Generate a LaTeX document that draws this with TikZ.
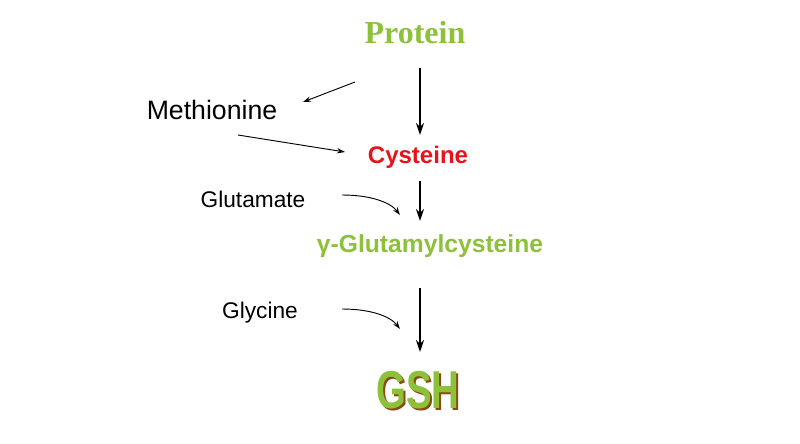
\documentclass[tikz,border=0pt]{standalone}
\usepackage{fontspec}
\setmainfont{Liberation Sans}
\newfontfamily\serifb{Liberation Serif}
\usetikzlibrary{arrows.meta}
\definecolor{lgreen}{HTML}{8DC13A}
\definecolor{cred}{HTML}{E8121B}
\definecolor{shadowb}{HTML}{8A4A12}
\begin{document}
\begin{tikzpicture}[x=0.75pt,y=-0.75pt,
  bigarrow/.style={line width=2pt,-{Stealth[length=9pt,width=6pt]}},
  thinarrow/.style={line width=0.7pt,-{Stealth[length=6pt,width=4pt,open]}},
  lbl/.style={font=\fontsize{17}{20}\selectfont,inner sep=0}]
\useasboundingbox (0,0) rectangle (800,443);
\node[inner sep=0,text=lgreen,font=\serifb\bfseries\fontsize{24}{28}\selectfont] (prot) at (415,33) {Protein};
\node[inner sep=0,font=\fontsize{20}{24}\selectfont] (meth) at (212,110) {Methionine};
\node[inner sep=0,text=cred,font=\bfseries\fontsize{18}{22}\selectfont] (cys) at (418,157) {Cysteine};
\node[lbl] (glu) at (253,199) {Glutamate};
\node[inner sep=0,text=lgreen,font=\bfseries\fontsize{18.5}{22}\selectfont] (gg) at (430,246) {γ-Glutamylcysteine};
\node[lbl] (gly) at (260,313) {Glycine};
\node[inner sep=0,text=shadowb,font=\bfseries\fontsize{40}{44}\selectfont,xscale=0.72] at (420,392) {GSH};
\node[inner sep=0,text=lgreen,font=\bfseries\fontsize{40}{44}\selectfont,xscale=0.72] (gsh) at (418,390) {GSH};
\coordinate (a1) at (420,68); \coordinate (a2) at (420,135);
\coordinate (b1) at (420,181); \coordinate (b2) at (420,221);
\coordinate (c1) at (420,288); \coordinate (c2) at (420,352);
\draw[bigarrow] (a1) -- (a2);
\draw[bigarrow] (b1) -- (b2);
\draw[bigarrow] (c1) -- (c2);
\coordinate (m1) at (355,82); \coordinate (m2) at (303,102);
\draw[thinarrow] (m1) -- (m2);
\coordinate (n1) at (238,135); \coordinate (n2) at (345,152);
\draw[thinarrow] (n1) -- (n2);
\coordinate (g1) at (342,195); \coordinate (g2) at (400,215);
\draw[thinarrow] (g1) .. controls (370,195) and (390,202) .. (g2);
\coordinate (h1) at (342,309); \coordinate (h2) at (400,329);
\draw[thinarrow] (h1) .. controls (370,309) and (390,316) .. (h2);
\end{tikzpicture}
\end{document}
